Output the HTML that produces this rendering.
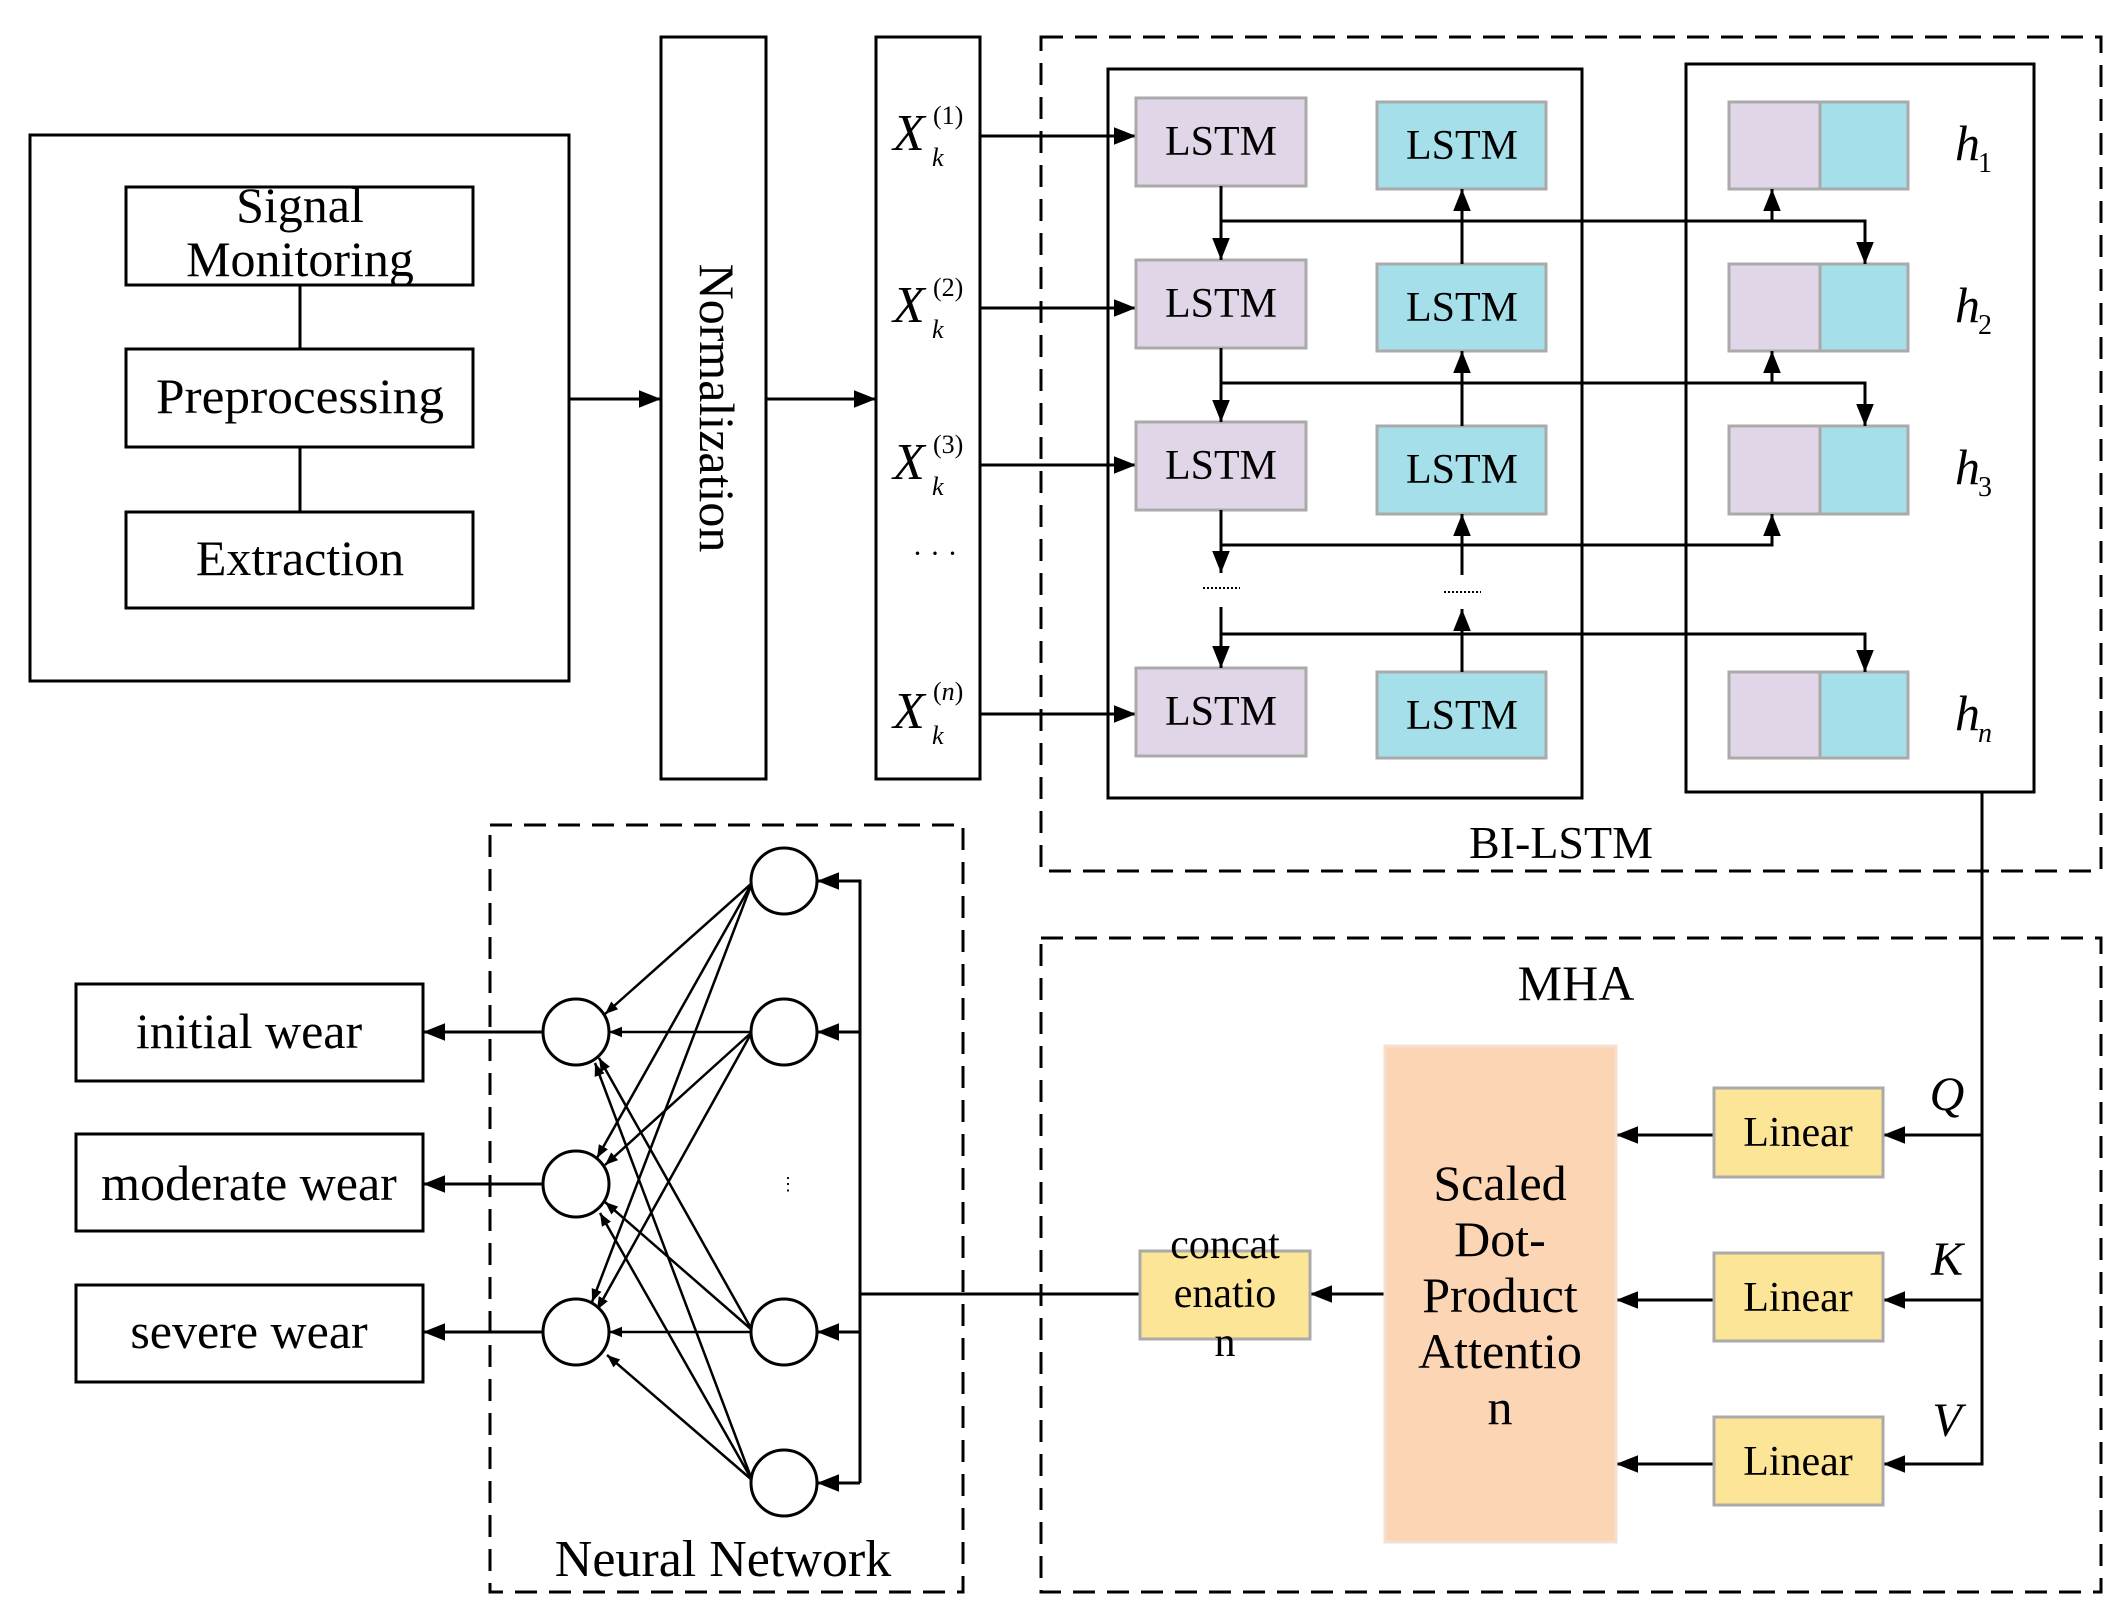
<!DOCTYPE html>
<html><head><meta charset="utf-8"><style>html,body{margin:0;padding:0;background:#fff}svg{display:block}</style></head>
<body>
<svg width="2125" height="1623" viewBox="0 0 2125 1623" xmlns="http://www.w3.org/2000/svg" font-family="Liberation Serif, serif" fill="none">
<defs>
<marker id="a" viewBox="0 0 10 10" refX="10" refY="5" markerWidth="13" markerHeight="13" markerUnits="userSpaceOnUse" orient="auto"><path d="M0,1L10,5L0,9z" fill="#000"/></marker>
<marker id="b" viewBox="0 0 10 10" refX="10" refY="5" markerWidth="22" markerHeight="22" markerUnits="userSpaceOnUse" orient="auto"><path d="M0,1L10,5L0,9z" fill="#000"/></marker>
</defs>
<g stroke="#000" stroke-width="3">
<rect x="30" y="135" width="539" height="546"/>
<rect x="126" y="187" width="347" height="98"/>
<rect x="126" y="349" width="347" height="98"/>
<rect x="126" y="512" width="347" height="96"/>
<line x1="300" y1="285" x2="300" y2="349"/>
<line x1="300" y1="447" x2="300" y2="512"/>
<line x1="569" y1="399" x2="661" y2="399" marker-end="url(#b)"/>
<rect x="661" y="37" width="105" height="742"/>
<line x1="766" y1="399" x2="876" y2="399" marker-end="url(#b)"/>
<rect x="876" y="37" width="104" height="742"/>
<line x1="980" y1="136" x2="1136" y2="136" marker-end="url(#b)"/>
<line x1="980" y1="308" x2="1136" y2="308" marker-end="url(#b)"/>
<line x1="980" y1="465" x2="1136" y2="465" marker-end="url(#b)"/>
<line x1="980" y1="714" x2="1136" y2="714" marker-end="url(#b)"/>
<rect x="1041" y="37" width="1060" height="834" stroke-dasharray="22,12"/>
<rect x="1108" y="69" width="474" height="729"/>
<rect x="1686" y="64" width="348" height="728"/>
</g>
<g stroke="#aaa" stroke-width="3">
<rect x="1136" y="98" width="170" height="88" fill="#e1d6e7"/>
<rect x="1136" y="260" width="170" height="88" fill="#e1d6e7"/>
<rect x="1136" y="422" width="170" height="88" fill="#e1d6e7"/>
<rect x="1136" y="668" width="170" height="88" fill="#e1d6e7"/>
<rect x="1377" y="102" width="169" height="87" fill="#a5dfe9"/>
<rect x="1377" y="264" width="169" height="87" fill="#a5dfe9"/>
<rect x="1377" y="426" width="169" height="88" fill="#a5dfe9"/>
<rect x="1377" y="672" width="169" height="86" fill="#a5dfe9"/>
<rect x="1729" y="102" width="91" height="87" fill="#e1d6e7"/><rect x="1820" y="102" width="88" height="87" fill="#a5dfe9"/>
<rect x="1729" y="264" width="91" height="87" fill="#e1d6e7"/><rect x="1820" y="264" width="88" height="87" fill="#a5dfe9"/>
<rect x="1729" y="426" width="91" height="88" fill="#e1d6e7"/><rect x="1820" y="426" width="88" height="88" fill="#a5dfe9"/>
<rect x="1729" y="672" width="91" height="86" fill="#e1d6e7"/><rect x="1820" y="672" width="88" height="86" fill="#a5dfe9"/>
</g>
<g stroke="#000" stroke-width="3">
<line x1="1221" y1="186" x2="1221" y2="260" marker-end="url(#b)"/>
<line x1="1221" y1="348" x2="1221" y2="422" marker-end="url(#b)"/>
<line x1="1221" y1="510" x2="1221" y2="573" marker-end="url(#b)"/>
<line x1="1221" y1="607" x2="1221" y2="668" marker-end="url(#b)"/>
<line x1="1462" y1="264" x2="1462" y2="189" marker-end="url(#b)"/>
<line x1="1462" y1="426" x2="1462" y2="351" marker-end="url(#b)"/>
<line x1="1462" y1="575" x2="1462" y2="514" marker-end="url(#b)"/>
<line x1="1462" y1="672" x2="1462" y2="609" marker-end="url(#b)"/>
<polyline points="1221,221 1865,221 1865,264" marker-end="url(#b)"/>
<polyline points="1221,383 1865,383 1865,426" marker-end="url(#b)"/>
<polyline points="1221,545 1772,545 1772,514" marker-end="url(#b)"/>
<polyline points="1221,634 1865,634 1865,672" marker-end="url(#b)"/>
<line x1="1772" y1="221" x2="1772" y2="189" marker-end="url(#b)"/>
<line x1="1772" y1="383" x2="1772" y2="351" marker-end="url(#b)"/>
</g>
<g stroke="#000" stroke-width="2" stroke-dasharray="2,2">
<line x1="1203" y1="588" x2="1240" y2="588"/>
<line x1="1444" y1="592" x2="1481" y2="592"/>
</g>
<g stroke="#000" stroke-width="3">
<rect x="1041" y="938" width="1060" height="654" stroke-dasharray="22,12"/>
<polyline points="1982,792 1982,1464 1883,1464" marker-end="url(#b)"/>
<line x1="1982" y1="1135" x2="1883" y2="1135" marker-end="url(#b)"/>
<line x1="1982" y1="1300" x2="1883" y2="1300" marker-end="url(#b)"/>
<line x1="1714" y1="1135" x2="1616" y2="1135" marker-end="url(#b)"/>
<line x1="1714" y1="1300" x2="1616" y2="1300" marker-end="url(#b)"/>
<line x1="1714" y1="1464" x2="1616" y2="1464" marker-end="url(#b)"/>
<line x1="1385" y1="1294" x2="1310" y2="1294" marker-end="url(#b)"/>
<line x1="1140" y1="1294" x2="860" y2="1294"/>
</g>
<rect x="1385" y="1046" width="231" height="496" fill="#fcd5b5" stroke="#f3e0d2" stroke-width="3"/>
<g stroke="#aaa" stroke-width="3" fill="#fde597">
<rect x="1714" y="1088" width="169" height="89"/>
<rect x="1714" y="1253" width="169" height="88"/>
<rect x="1714" y="1417" width="169" height="88"/>
<rect x="1140" y="1251" width="170" height="88"/>
</g>
<g stroke="#000" stroke-width="3">
<rect x="490" y="825" width="473" height="767" stroke-dasharray="22,12"/>
<rect x="76" y="984" width="347" height="97"/>
<rect x="76" y="1134" width="347" height="97"/>
<rect x="76" y="1285" width="347" height="97"/>
<line x1="543" y1="1032" x2="423" y2="1032" marker-end="url(#b)"/>
<line x1="543" y1="1184" x2="423" y2="1184" marker-end="url(#b)"/>
<line x1="543" y1="1332" x2="423" y2="1332" marker-end="url(#b)"/>
<polyline points="860,1483 860,881 817,881" marker-end="url(#b)"/>
<line x1="860" y1="1032" x2="817" y2="1032" marker-end="url(#b)"/>
<line x1="860" y1="1332" x2="817" y2="1332" marker-end="url(#b)"/>
<line x1="860" y1="1483" x2="817" y2="1483" marker-end="url(#b)"/>
</g>
<g stroke="#000" stroke-width="2.5">
<line x1="752" y1="883" x2="605" y2="1014" marker-end="url(#a)"/>
<line x1="752" y1="883" x2="597" y2="1158" marker-end="url(#a)"/>
<line x1="752" y1="883" x2="592" y2="1302" marker-end="url(#a)"/>
<line x1="752" y1="1032" x2="609" y2="1032" marker-end="url(#a)"/>
<line x1="752" y1="1032" x2="605" y2="1165" marker-end="url(#a)"/>
<line x1="752" y1="1032" x2="597" y2="1310" marker-end="url(#a)"/>
<line x1="752" y1="1330" x2="599" y2="1058" marker-end="url(#a)"/>
<line x1="752" y1="1330" x2="605" y2="1202" marker-end="url(#a)"/>
<line x1="752" y1="1332" x2="609" y2="1332" marker-end="url(#a)"/>
<line x1="752" y1="1480" x2="595" y2="1063" marker-end="url(#a)"/>
<line x1="752" y1="1480" x2="600" y2="1213" marker-end="url(#a)"/>
<line x1="752" y1="1480" x2="607" y2="1355" marker-end="url(#a)"/>
</g>
<g stroke="#000" stroke-width="3" fill="#fff">
<ellipse cx="576" cy="1032" rx="33" ry="33"/>
<ellipse cx="576" cy="1184" rx="33" ry="33"/>
<ellipse cx="576" cy="1332" rx="33" ry="33"/>
<ellipse cx="784" cy="881" rx="33" ry="33"/>
<ellipse cx="784" cy="1032" rx="33" ry="33"/>
<ellipse cx="784" cy="1332" rx="33" ry="33"/>
<ellipse cx="784" cy="1483" rx="33" ry="33"/>
</g>
<g fill="#000" font-size="50" text-anchor="middle">
<text x="300" y="222">Signal</text>
<text x="300" y="276">Monitoring</text>
<text x="300" y="413" textLength="288" lengthAdjust="spacingAndGlyphs">Preprocessing</text>
<text x="300" y="575">Extraction</text>
<text transform="translate(700,408) rotate(90)" font-size="50">Normalization</text>
<text x="1221" y="155" font-size="42">LSTM</text>
<text x="1221" y="317" font-size="42">LSTM</text>
<text x="1221" y="479" font-size="42">LSTM</text>
<text x="1221" y="725" font-size="42">LSTM</text>
<text x="1462" y="159" font-size="42">LSTM</text>
<text x="1462" y="321" font-size="42">LSTM</text>
<text x="1462" y="483" font-size="42">LSTM</text>
<text x="1462" y="729" font-size="42">LSTM</text>
<text x="1561" y="858" font-size="46">BI-LSTM</text>
<text x="1576" y="1000" font-size="50">MHA</text>
<text x="1798" y="1146" font-size="42">Linear</text>
<text x="1798" y="1311" font-size="42">Linear</text>
<text x="1798" y="1475" font-size="42">Linear</text>
<text x="1500" y="1200" font-size="50">Scaled</text>
<text x="1500" y="1256" font-size="50">Dot-</text>
<text x="1500" y="1312" font-size="50">Product</text>
<text x="1500" y="1368" font-size="50">Attentio</text>
<text x="1500" y="1424" font-size="50">n</text>
<text x="1225" y="1258" font-size="42">concat</text>
<text x="1225" y="1307" font-size="42">enatio</text>
<text x="1225" y="1356" font-size="42">n</text>
<text x="249" y="1048">initial wear</text>
<text x="249" y="1200">moderate wear</text>
<text x="249" y="1348">severe wear</text>
<text x="723" y="1576" font-size="52">Neural Network</text>
<text x="788" y="1190" font-size="18">⋮</text>
<text x="935" y="563" font-size="30">· · ·</text>
</g>
<g fill="#000" font-style="italic">
<text x="1947" y="1110" font-size="48" text-anchor="middle">Q</text>
<text x="1947" y="1275" font-size="48" text-anchor="middle">K</text>
<text x="1947" y="1436" font-size="48" text-anchor="middle">V</text>
<g font-size="50"><text x="1955" y="160">h</text><text x="1955" y="322">h</text><text x="1955" y="484">h</text><text x="1955" y="730">h</text></g>
<g font-size="28" font-style="normal"><text x="1978" y="172">1</text><text x="1978" y="334">2</text><text x="1978" y="496">3</text></g>
<text x="1978" y="742" font-size="28">n</text>
<g font-size="52"><text x="893" y="150">X</text><text x="893" y="322">X</text><text x="893" y="479">X</text><text x="893" y="728">X</text></g>
<g font-size="26"><text x="932" y="166">k</text><text x="932" y="338">k</text><text x="932" y="495">k</text><text x="932" y="744">k</text></g>
<g font-size="26" font-style="normal"><text x="933" y="124">(1)</text><text x="933" y="296">(2)</text><text x="933" y="453">(3)</text></g>
<text x="933" y="700" font-size="26"><tspan font-style="normal">(</tspan>n<tspan font-style="normal">)</tspan></text>
</g>
</svg>
</body></html>
